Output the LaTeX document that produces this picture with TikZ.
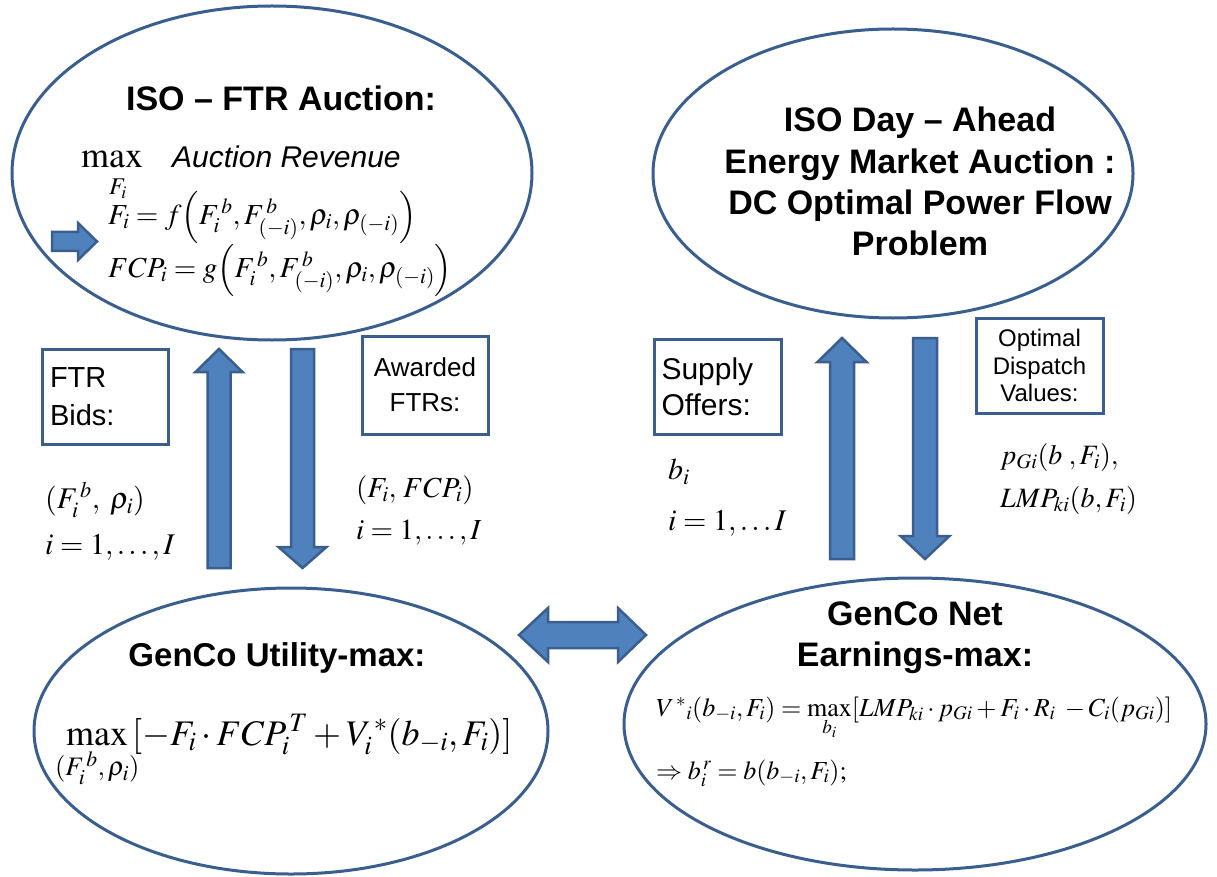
\documentclass[tikz,border=0pt]{standalone}
\usepackage{mathptmx}
\usepackage[no-math]{fontspec}
\setmainfont{Liberation Serif}
\setsansfont{Liberation Sans}
\usetikzlibrary{shapes.geometric,calc}
\definecolor{ol}{HTML}{3A5F8F}
\definecolor{af}{HTML}{4F81BD}
\definecolor{ab}{HTML}{3A5F8F}
\newcommand{\zclap}[1]{\hbox to 0pt{\hss$\scriptstyle #1$\hss}}
\begin{document}
\begin{tikzpicture}[x=1pt,y=-1pt,
  ell/.style={ellipse, draw=ol, line width=3pt, inner sep=0pt},
  lbox/.style={draw=ol, line width=3pt, inner sep=0pt},
  barr/.style={fill=af, draw=ab, line width=2.5pt, line join=miter},
  ttl/.style={font=\fontsize{34}{41}\selectfont\sffamily\bfseries, align=center, inner sep=0pt},
  mth/.style={font=\fontsize{#1}{#1}\selectfont, inner sep=0pt}]
\useasboundingbox (0,0) rectangle (1217,877);
\fill[white] (0,0) rectangle (1217,877);

% ellipses
\node[ell, minimum width=520pt, minimum height=334pt] (ftr) at (272,173) {};
\node[ell, minimum width=480pt, minimum height=289pt] (dam) at (893,173.5) {};
\node[ell, minimum width=514pt, minimum height=286pt] (util) at (291,731) {};
\node[ell, minimum width=582pt, minimum height=292pt] (earn) at (915,724) {};

% top-left contents
\node[ttl] (ftrT) at (281,98) {ISO – FTR Auction:};
\node[mth=36, anchor=base west] (maxA) at (81,168) {$\max$};
\node[anchor=base west, inner sep=0pt, font=\fontsize{30}{36}\selectfont\sffamily\itshape] (rev) at (172,168) {Auction Revenue};
\node[mth=24, anchor=base west] (fiA) at (109,195) {$F_i$};
\node[mth=29, anchor=west] (eq1) at (108,217) {$F_i = f\Big(F_i^{\,b}, F_{(-i)}^{\,b}, \rho_i, \rho_{(-i)}\Big)$};
\node[mth=29, anchor=west] (eq2) at (108,270) {$FCP_i = g\Big(F_i^{\,b}, F_{(-i)}^{\,b}, \rho_i, \rho_{(-i)}\Big)$};
\coordinate (sa0) at (52,241.5);
\coordinate (sa1) at (97,241.5);
\draw[barr] ($(sa0)+(0,-9.5)$) -- ($(sa1)+(-19,-9.5)$) -- ($(sa1)+(-19,-18.5)$) -- (sa1)
  -- ($(sa1)+(-19,18.5)$) -- ($(sa1)+(-19,9.5)$) -- ($(sa0)+(0,9.5)$) -- cycle;

% top-right contents
\node[ttl, font=\fontsize{34}{41.3}\selectfont\sffamily\bfseries] (damT) at (920,181.5)
  {ISO Day – Ahead\\Energy Market Auction :\\DC Optimal Power Flow\\Problem};

% bottom-left contents
\node[ttl, font=\fontsize{33}{40}\selectfont\sffamily\bfseries] (utilT) at (277,658) {GenCo Utility-max:};
\node[mth=36, anchor=base west] (utilM) at (66,745)
  {$\max\limits_{\zclap{(F_i^{\,b},\,\rho_i)}}\,[-F_i\cdot FCP_i^{\,T}+V_i^{\,*}(b_{-i},F_i)]$};

% bottom-right contents
\node[ttl] (earnT) at (915,638) {GenCo Net\\Earnings-max:};
\node[mth=26, anchor=base west] (earnM1) at (656,716)
  {$V^{\,*}{}_{i}(b_{-i},F_i)=\max\limits_{b_i}[LMP_{ki}\cdot p_{Gi}+F_i\cdot R_i\;-C_i(p_{Gi})]$};
\node[mth=26, anchor=base west] (earnM2) at (656,779)
  {$\Rightarrow b_i^{\,r}=b(b_{-i},F_i);$};

% label boxes
\node[lbox, minimum width=126pt, minimum height=95pt, text width=110pt, align=left,
  font=\fontsize{29}{38}\selectfont\sffamily] (bidB) at (105,396.5) {FTR\\Bids:};
\node[lbox, minimum width=126pt, minimum height=98pt, align=center,
  font=\fontsize{26}{35}\selectfont\sffamily] (awB) at (425,385) {Awarded\\FTRs:};
\node[lbox, minimum width=127pt, minimum height=95pt, text width=112pt, align=left,
  font=\fontsize{30}{36}\selectfont\sffamily] (supB) at (717.5,386.5) {Supply\\Offers:};
\node[lbox, minimum width=127pt, minimum height=95pt, align=center,
  font=\fontsize{24}{27.5}\selectfont\sffamily] (optB) at (1039.5,365.5) {Optimal\\Dispatch\\Values:};

% math labels
\node[mth=30, anchor=west] (bidV) at (45,500) {$(F_i^{\,b},\;\rho_i)$};
\node[mth=30, anchor=west] (bidI) at (45,547) {$i=1,\ldots,I$};
\node[mth=29, anchor=west] (awV) at (356,490) {$(F_i,\,FCP_i)$};
\node[mth=29, anchor=west] (awI) at (356,533) {$i=1,\ldots,I$};
\node[mth=30, anchor=west] (supV) at (668,472) {$b_i$};
\node[mth=30, anchor=west] (supI) at (668,523) {$i=1,\ldots I$};
\node[mth=28, anchor=west] (optV) at (1000,457) {$p_{Gi}(b\;,F_i),$};
\node[mth=28, anchor=west] (optL) at (1000,500) {$LMP_{ki}(b,F_i)$};

% block arrows
\coordinate (u1b) at (219,568); \coordinate (u1t) at (219,349);
\draw[barr] ($(u1b)+(-11.5,0)$) -- ($(u1t)+(-11.5,23)$) -- ($(u1t)+(-23.5,23)$) -- (u1t)
  -- ($(u1t)+(23.5,23)$) -- ($(u1t)+(11.5,23)$) -- ($(u1b)+(11.5,0)$) -- cycle;
\coordinate (d1s) at (302.5,349); \coordinate (d1t) at (302.5,568);
\draw[barr] ($(d1s)+(-11.5,0)$) -- ($(d1t)+(-11.5,-21)$) -- ($(d1t)+(-24,-21)$) -- (d1t)
  -- ($(d1t)+(24,-21)$) -- ($(d1t)+(11.5,-21)$) -- ($(d1s)+(11.5,0)$) -- cycle;
\coordinate (u2b) at (842,559); \coordinate (u2t) at (842,338);
\draw[barr] ($(u2b)+(-12,0)$) -- ($(u2t)+(-12,24)$) -- ($(u2t)+(-24.5,24)$) -- (u2t)
  -- ($(u2t)+(24.5,24)$) -- ($(u2t)+(12,24)$) -- ($(u2b)+(12,0)$) -- cycle;
\coordinate (d2s) at (925,338); \coordinate (d2t) at (925,559);
\draw[barr] ($(d2s)+(-12,0)$) -- ($(d2t)+(-12,-23)$) -- ($(d2t)+(-24.5,-23)$) -- (d2t)
  -- ($(d2t)+(24.5,-23)$) -- ($(d2t)+(12,-23)$) -- ($(d2s)+(12,0)$) -- cycle;
\coordinate (dl) at (519,635); \coordinate (dr) at (646,635);
\draw[barr] (dl) -- ($(dl)+(29,-27)$) -- ($(dl)+(29,-13)$) -- ($(dr)+(-28,-13)$) -- ($(dr)+(-28,-27)$)
  -- (dr) -- ($(dr)+(-28,27)$) -- ($(dr)+(-28,13)$) -- ($(dl)+(29,13)$) -- ($(dl)+(29,27)$) -- cycle;
\end{tikzpicture}
\end{document}
